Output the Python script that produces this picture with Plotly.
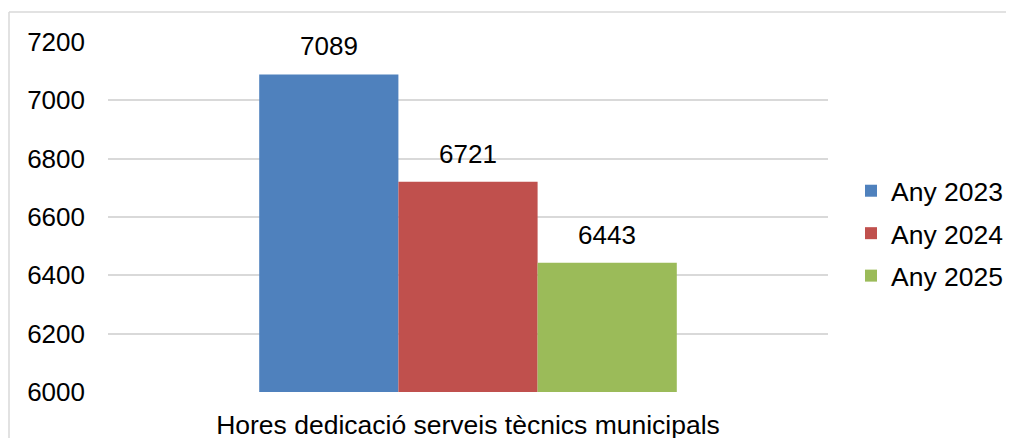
import plotly.graph_objects as go

categories = ["Hores dedicació serveis tècnics municipals"]
series_names = ["Any 2023", "Any 2024", "Any 2025"]
series_values = [[7089], [6721], [6443]]
colors = ["#4F81BD", "#C0504D", "#9BBB59"]
y_ticks = [6000, 6200, 6400, 6600, 6800, 7000, 7200]

# page body has an 8px default margin; compensate so nothing overflows
OFF = 8
PAGE_W, PAGE_H = 1014, 446
W, H = PAGE_W - 2 * OFF, PAGE_H - 2 * OFF
ML, MT = 108 - OFF, 42 - OFF
plot_right, plot_bottom = 828 - OFF, 392 - OFF
MR, MB = W - plot_right, H - plot_bottom
plot_w = plot_right - ML
plot_h = plot_bottom - MT
bargap = 0.42
bar_px = plot_w * (1 - bargap) / len(series_names)

FONT = "Liberation Sans, Arial, sans-serif"
FS = 26
FS_BIG = 26.5

fig = go.Figure()
for i, (name, vals, col) in enumerate(zip(series_names, series_values, colors)):
    fig.add_trace(go.Bar(
        x=categories, y=vals, name=name, marker_color=col,
        marker_line_width=0, legendgroup=name,
    ))
    for c, v in zip(categories, vals):
        fig.add_annotation(
            x=c, y=v, text=str(v), showarrow=False,
            xshift=(i - (len(series_names) - 1) / 2) * bar_px,
            yanchor="bottom", yshift=11,
            font=dict(family=FONT, size=FS, color="#000000"),
        )

def px_to_paper_x(px):
    return (px - OFF - ML) / plot_w

def px_to_paper_y(py):
    return (plot_bottom - (py - OFF)) / plot_h

border = "#D9D9D9"
fig.add_shape(type="line", xref="paper", yref="paper",
              x0=px_to_paper_x(9), x1=px_to_paper_x(PAGE_W + 20),
              y0=px_to_paper_y(12), y1=px_to_paper_y(12),
              line=dict(color=border, width=1.5))
fig.add_shape(type="line", xref="paper", yref="paper",
              x0=px_to_paper_x(9), x1=px_to_paper_x(9),
              y0=px_to_paper_y(12), y1=px_to_paper_y(PAGE_H + 20),
              line=dict(color=border, width=1.5))

fig.update_layout(
    width=W, height=H,
    margin=dict(l=ML, r=MR, t=MT, b=MB, autoexpand=False),
    paper_bgcolor="white", plot_bgcolor="white",
    barmode="group", bargap=bargap, bargroupgap=0,
    font=dict(family=FONT, size=FS, color="#000000"),
    showlegend=True,
    legend=dict(
        x=px_to_paper_x(851), xanchor="left",
        y=px_to_paper_y(233.5), yanchor="middle",
        font=dict(family=FONT, size=FS_BIG, color="#000000"),
        tracegroupgap=5, itemwidth=30,
        bgcolor="rgba(0,0,0,0)",
    ),
    xaxis=dict(
        showgrid=False, showline=False, zeroline=False,
        ticks="", ticklabelstandoff=14,
        tickfont=dict(family=FONT, size=FS_BIG, color="#000000"),
    ),
    yaxis=dict(
        range=[6000, 7200], tickvals=y_ticks,
        showgrid=True, gridcolor="#D9D9D9", gridwidth=1.5,
        zeroline=False, showline=False, ticks="",
        ticklabelstandoff=22,
        tickfont=dict(family=FONT, size=FS, color="#000000"),
    ),
)

fig.write_html("out.html")
